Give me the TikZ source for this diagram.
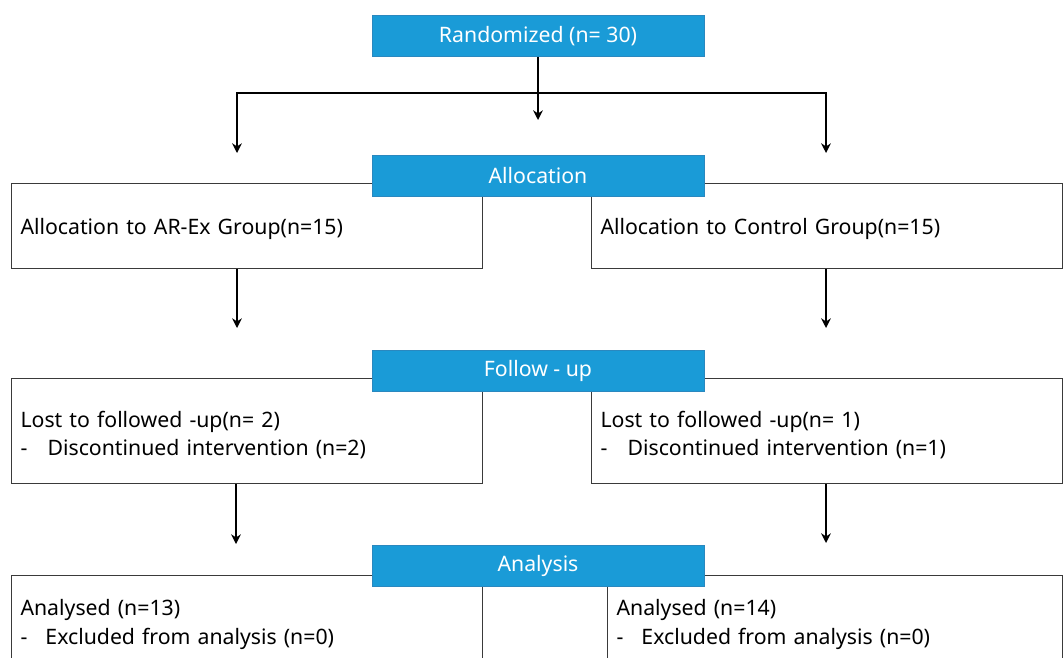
\documentclass[tikz,border=0pt]{standalone}
\usepackage{fontspec}
\setmainfont{Noto Sans}
\usetikzlibrary{arrows.meta}

\definecolor{hdrblue}{HTML}{1A9BD7}
\definecolor{hdredge}{HTML}{2A88BF}
\definecolor{boxedge}{HTML}{3A3A3A}

\tikzset{
  header/.style={rectangle, fill=hdrblue, draw=hdredge, line width=0.4pt, text=white,
    minimum width=6.64cm, minimum height=0.82cm, inner sep=0pt},
  groupbox/.style={rectangle, draw=boxedge, line width=0.6pt, anchor=north west,
    minimum width=9.42cm, text width=9.06cm, inner xsep=0.18cm, inner ysep=0pt, align=left,
    execute at end node={\par\vspace*{-0.16cm}}},
  flow/.style={->, line width=1.6pt, line join=miter}
}

\begin{document}
\begin{tikzpicture}[x=0.02cm, y=-0.02cm, >={Stealth[length=5.5pt,width=5.5pt]},
    font=\fontsize{12.1}{16.4}\selectfont]
    \useasboundingbox (0,0) rectangle (1064,657);
    \clip (0,0) rectangle (1064,657);

    % Group boxes
    \node[groupbox, minimum height=1.7cm] (allocL) at (11,183) {Allocation to AR-Ex Group(n=15)};
    \node[groupbox, minimum height=1.7cm] (allocR) at (591,183) {Allocation to Control Group(n=15)};
    \node[groupbox, minimum height=2.1cm] (fuL) at (11,378) {Lost to followed -up(n= 2)\\
      -\hspace{0.95em}Discontinued intervention (n=2)};
    \node[groupbox, minimum height=2.1cm] (fuR) at (591,378) {Lost to followed -up(n= 1)\\
      -\hspace{0.95em}Discontinued intervention (n=1)};
    \node[groupbox, minimum height=1.8cm] (anL) at (11,575) {Analysed (n=13)\\
      -\hspace{0.85em}Excluded from analysis (n=0)};
    \node[groupbox, minimum height=1.8cm, minimum width=9.1cm, text width=8.74cm] (anR) at (607,575) {Analysed (n=14)\\
      -\hspace{0.85em}Excluded from analysis (n=0)};

    % Stage headers
    \node[header] (rand) at (538,36) {Randomized (n= 30)};
    \node[header] (alloc) at (538,175.5) {Allocation};
    \node[header] (follow) at (538,370.5) {Follow - up};
    \node[header] (analysis) at (538,565.5) {Analysis};

    % Split after randomization
    \coordinate (splitL) at (237,93);
    \coordinate (splitR) at (826,93);
    \coordinate (tipC) at (538,120);
    \coordinate (tipL) at (237,153);
    \coordinate (tipR) at (826,153);
    \draw[flow] (rand) -- (tipC);
    \draw[flow, <->] (tipL) -- (splitL) -- (splitR) -- (tipR);

    % Arrows between stages
    \coordinate (fuTipL) at (237,328);
    \coordinate (fuTipR) at (826,328);
    \coordinate (anTipL) at (236,544);
    \coordinate (anTipR) at (826,543);
    \draw[flow] (allocL.south -| fuTipL) -- (fuTipL);
    \draw[flow] (allocR.south -| fuTipR) -- (fuTipR);
    \draw[flow] (fuL.south -| anTipL) -- (anTipL);
    \draw[flow] (fuR.south -| anTipR) -- (anTipR);
\end{tikzpicture}
\end{document}
